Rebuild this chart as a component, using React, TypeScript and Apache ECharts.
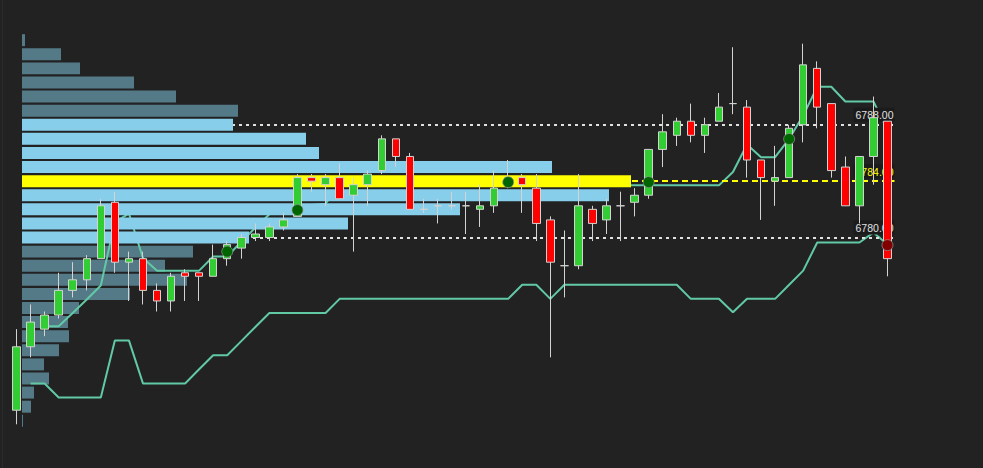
import React, { useEffect, useRef } from "react";
import * as echarts from "echarts";

const categories = [
  "09:30","09:31","09:32","09:33","09:34","09:35","09:36","09:37","09:38","09:39",
  "09:40","09:41","09:42","09:43","09:44","09:45","09:46","09:47","09:48","09:49",
  "09:50","09:51","09:52","09:53","09:54","09:55","09:56","09:57","09:58","09:59",
  "10:00","10:01","10:02","10:03","10:04","10:05","10:06","10:07","10:08","10:09",
  "10:10","10:11","10:12","10:13","10:14","10:15","10:16","10:17","10:18","10:19",
  "10:20","10:21","10:22","10:23","10:24","10:25","10:26","10:27","10:28","10:29",
  "10:30","10:31","10:32",
];

const opens = [
  6767.75, 6772.25, 6773.5, 6774.5, 6776.25, 6777.0, 6778.5, 6782.5, 6778.25, 6778.5,
  6776.25, 6775.5, 6777.5, 6777.5, 6777.25, 6778.5, 6779.25, 6780.0, 6780.0, 6780.75,
  6781.5, 6784.25, 6783.75, 6784.25, 6783.0, 6783.75, 6784.75, 6787.0, 6785.75, 6782.0,
  6782.25, 6782.25, 6782.25, 6782.0, 6782.25, 6783.75, 6784.25, 6783.5, 6781.25, 6778.0,
  6778.0, 6782.0, 6781.25, 6782.25, 6782.5, 6783.0, 6786.25, 6787.25, 6788.25, 6787.25,
  6788.25, 6789.5, 6789.25, 6785.5, 6784.0, 6784.25, 6788.0, 6792.0, 6789.5, 6785.0,
  6782.25, 6785.75, 6788.25,
];
const closes = [
  6772.25, 6774.0, 6774.5, 6776.25, 6777.0, 6778.5, 6782.25, 6778.25, 6778.5, 6776.25,
  6775.5, 6777.25, 6777.25, 6777.25, 6778.5, 6779.5, 6780.0, 6780.25, 6780.75, 6781.25,
  6784.25, 6784.0, 6784.25, 6782.75, 6783.75, 6784.5, 6787.0, 6785.75, 6782.0, 6782.0,
  6782.25, 6782.25, 6782.25, 6782.25, 6783.5, 6784.25, 6783.75, 6781.0, 6778.25, 6778.0,
  6782.25, 6781.0, 6782.25, 6782.25, 6783.0, 6786.25, 6787.5, 6788.25, 6787.25, 6788.0,
  6789.25, 6789.5, 6785.5, 6784.25, 6784.25, 6787.75, 6792.25, 6789.25, 6784.75, 6782.25,
  6785.75, 6788.5, 6778.5,
];
const lows = [
  6766.75, 6771.5, 6773.0, 6774.25, 6775.75, 6776.25, 6778.5, 6777.5, 6775.5, 6775.25,
  6774.75, 6774.75, 6775.5, 6775.5, 6777.25, 6778.0, 6778.5, 6779.75, 6779.75, 6780.5,
  6781.5, 6783.25, 6782.25, 6782.75, 6779.0, 6782.25, 6784.5, 6785.0, 6782.0, 6781.75,
  6781.0, 6782.0, 6780.25, 6780.75, 6781.75, 6783.5, 6781.75, 6779.75, 6771.5, 6775.75,
  6777.75, 6779.75, 6780.25, 6779.75, 6781.5, 6782.75, 6785.0, 6786.5, 6786.75, 6786.0,
  6788.25, 6788.75, 6784.25, 6781.25, 6782.25, 6784.25, 6786.75, 6787.75, 6784.25, 6782.25,
  6781.0, 6783.75, 6777.25,
];
const highs = [
  6773.5, 6775.25, 6774.75, 6777.5, 6778.25, 6778.75, 6782.75, 6783.25, 6779.0, 6779.0,
  6776.75, 6777.5, 6777.75, 6777.5, 6779.5, 6779.75, 6780.25, 6781.0, 6781.0, 6781.75,
  6784.5, 6784.5, 6784.5, 6785.25, 6784.25, 6784.75, 6787.25, 6787.0, 6786.0, 6782.75,
  6782.75, 6783.25, 6783.25, 6783.75, 6784.75, 6785.5, 6784.5, 6784.5, 6781.5, 6780.5,
  6784.5, 6782.25, 6782.75, 6783.25, 6783.5, 6786.25, 6788.75, 6788.5, 6789.5, 6788.5,
  6790.25, 6793.5, 6789.75, 6785.5, 6786.5, 6788.0, 6793.75, 6792.5, 6789.5, 6785.75,
  6785.75, 6790.0, 6788.25,
];

const upperBand = [
  null, null, 6773.7, 6773.7, 6774.65, 6775.6, 6776.6, 6781.1, 6781.7, 6778.55,
  6777.65, 6777.65, 6777.65, 6777.65, 6778.65, 6778.65, 6779.7, 6780.7, 6781.65, 6782.15,
  6782.25, 6782.3, 6782.4, 6783.7, 6783.7, 6783.7, 6783.7, 6783.7, 6783.7, 6783.7,
  6783.7, 6783.7, 6783.7, 6783.7, 6783.7, 6783.7, 6783.7, 6783.7, 6783.7, 6783.7,
  6783.7, 6783.7, 6783.7, 6783.7, 6783.7, 6783.7, 6783.7, 6783.7, 6783.7, 6783.7,
  6783.7, 6784.65, 6786.6, 6785.7, 6785.7, 6787.0, 6788.65, 6790.7, 6790.7, 6789.65,
  6789.65, 6789.65, 6787.65,
];
const lowerBand = [
  null, 6769.65, 6769.65, 6768.65, 6768.65, 6768.65, 6768.65, 6772.7, 6772.7, 6769.65,
  6769.65, 6769.65, 6769.65, 6770.65, 6771.65, 6771.65, 6772.65, 6773.65, 6774.65, 6774.65,
  6774.65, 6774.65, 6774.65, 6775.65, 6775.65, 6775.65, 6775.65, 6775.65, 6775.65, 6775.65,
  6775.65, 6775.65, 6775.65, 6775.65, 6775.65, 6775.65, 6776.65, 6776.65, 6775.65, 6776.65,
  6776.65, 6776.65, 6776.65, 6776.65, 6776.65, 6776.65, 6776.65, 6776.65, 6775.65, 6775.65,
  6775.65, 6774.7, 6775.65, 6775.65, 6775.65, 6776.65, 6777.65, 6779.65, 6779.65, 6779.65,
  6779.65, 6780.35, 6779.5,
];

const profilePrices = [
  6794, 6793, 6792, 6791, 6790, 6789, 6788, 6787, 6786, 6785, 6784, 6783, 6782, 6781,
  6780, 6779, 6778, 6777, 6776, 6775, 6774, 6773, 6772, 6771, 6770, 6769, 6768, 6767,
];
const profileVolumes = [
  30, 390, 580, 1120, 1540, 2160, 2110, 2840, 2970, 5300, 6090, 5870, 4380, 3260,
  2270, 1710, 1430, 1650, 1080, 570, 460, 470, 370, 220, 270, 120, 90, 10,
];
const POC = 6784;
const VA_HIGH = 6788;
const VA_LOW = 6780;

const buySignalIdx = [15, 20, 35, 45, 55];
const buySignalPrice = [6779.0, 6781.95, 6783.93, 6783.93, 6786.99];
const sellSignalIdx = [62];
const sellSignalPrice = [6779.46];

const levelValues = [6788, 6784, 6780];
const levelLabels = ["6788.00", "6784.00", "6780.00"];

const Y_MIN = 6763.65;
const Y_MAX = 6796.85;
const VOL_MAX = 8725;

export default function App() {
  const ref = useRef<HTMLDivElement>(null);

  useEffect(() => {
    if (!ref.current) return;
    const chart = echarts.init(ref.current, undefined, { renderer: "svg" });

    const profileItems = profilePrices.map((p, i) => [profileVolumes[i], p]);
    const outerItems = profileItems.filter((d) => d[1] > VA_HIGH || d[1] < VA_LOW);
    const innerItems = profileItems.filter((d) => d[1] <= VA_HIGH && d[1] >= VA_LOW);

    const makeRender = (inner: boolean) => (params: any, api: any) => {
      const vol = api.value(0);
      const price = api.value(1);
      const a = api.coord([0, price + 0.425]);
      const b = api.coord([vol, price - 0.425]);
      let fill = "#557a87";
      if (inner) fill = price === POC ? "#ffff00" : "#87ceeb";
      return {
        type: "rect",
        shape: { x: a[0], y: a[1], width: b[0] - a[0], height: b[1] - a[1] },
        style: { fill },
      };
    };

    const levelColors = ["#e0e0e0", "#ffff00", "#e0e0e0"];
    const levelDash = [[3, 4], [6, 4], [3, 4]];

    const option: any = {
      animation: false,
      backgroundColor: "#222222",
      grid: [
        { left: 9.5, right: 88.5, top: 0, bottom: 0 },
        { left: 22, right: 88.5, top: 0, bottom: 0 },
      ],
      xAxis: [
        { type: "category", data: categories, gridIndex: 0, show: false, boundaryGap: true },
        { type: "value", gridIndex: 1, min: 0, max: VOL_MAX, show: false },
      ],
      yAxis: [
        { type: "value", gridIndex: 0, min: Y_MIN, max: Y_MAX, show: false },
        { type: "value", gridIndex: 1, min: Y_MIN, max: Y_MAX, show: false },
      ],
      graphic: [
        {
          type: "rect",
          left: 2,
          top: 0,
          shape: { width: 1, height: 468 },
          style: { fill: "#2c2c2c" },
          silent: true,
        },
      ],
      series: [
        {
          type: "custom",
          name: "profileOuter",
          xAxisIndex: 1,
          yAxisIndex: 1,
          z: 1,
          silent: true,
          data: outerItems,
          renderItem: makeRender(false),
        },
        {
          type: "line",
          name: "upper",
          xAxisIndex: 0,
          yAxisIndex: 0,
          z: 2,
          data: upperBand,
          symbol: "none",
          connectNulls: false,
          lineStyle: { color: "#62c9a5", width: 2 },
          silent: true,
        },
        {
          type: "line",
          name: "lower",
          xAxisIndex: 0,
          yAxisIndex: 0,
          z: 2,
          data: lowerBand,
          symbol: "none",
          connectNulls: false,
          lineStyle: { color: "#62c9a5", width: 2 },
          silent: true,
        },
        {
          type: "line",
          name: "levels",
          xAxisIndex: 1,
          yAxisIndex: 1,
          z: 2.5,
          data: [],
          symbol: "none",
          markLine: {
            z: 2.5,
            silent: true,
            symbol: ["none", "none"],
            data: levelValues.map((v, i) => ({
              yAxis: v,
              lineStyle: { color: levelColors[i], width: 2, type: levelDash[i] },
              label: {
                show: true,
                position: "insideEndTop",
                formatter: levelLabels[i],
                color: levelColors[i],
                fontSize: 10.5,
                fontFamily: "Liberation Sans, Arial, sans-serif",
                backgroundColor: "#1b1b1b",
                padding: [2, 1, 1, 2],
                distance: [0, 3],
              },
            })),
          },
        },
        {
          type: "custom",
          name: "profileValueArea",
          xAxisIndex: 1,
          yAxisIndex: 1,
          z: 3,
          silent: true,
          data: innerItems,
          renderItem: makeRender(true),
        },
        {
          type: "candlestick",
          name: "price",
          xAxisIndex: 0,
          yAxisIndex: 0,
          z: 5,
          barWidth: 8,
          data: opens.map((o, i) => [o, closes[i], lows[i], highs[i]]),
          itemStyle: {
            color: "#32cd32",
            color0: "#ff0000",
            borderColor: "#d3d3d3",
            borderColor0: "#d3d3d3",
            borderColorDoji: "#d3d3d3",
            borderWidth: 1,
          },
          silent: true,
        },
        {
          type: "scatter",
          name: "buy",
          xAxisIndex: 0,
          yAxisIndex: 0,
          z: 6,
          symbolSize: 11,
          data: buySignalIdx.map((x, i) => [x, buySignalPrice[i]]),
          itemStyle: { color: "#006400", borderColor: "rgba(150,150,150,0.7)", borderWidth: 1, opacity: 1 },
          silent: true,
        },
        {
          type: "scatter",
          name: "sell",
          xAxisIndex: 0,
          yAxisIndex: 0,
          z: 6,
          symbolSize: 11,
          data: sellSignalIdx.map((x, i) => [x, sellSignalPrice[i]]),
          itemStyle: { color: "#800000", borderColor: "rgba(150,150,150,0.7)", borderWidth: 1, opacity: 1 },
          silent: true,
        },
      ],
    };

    chart.setOption(option);
    return () => chart.dispose();
  }, []);

  return (
    <div
      ref={ref}
      style={{ position: "fixed", left: 0, top: 0, width: 983, height: 468 }}
    />
  );
}
